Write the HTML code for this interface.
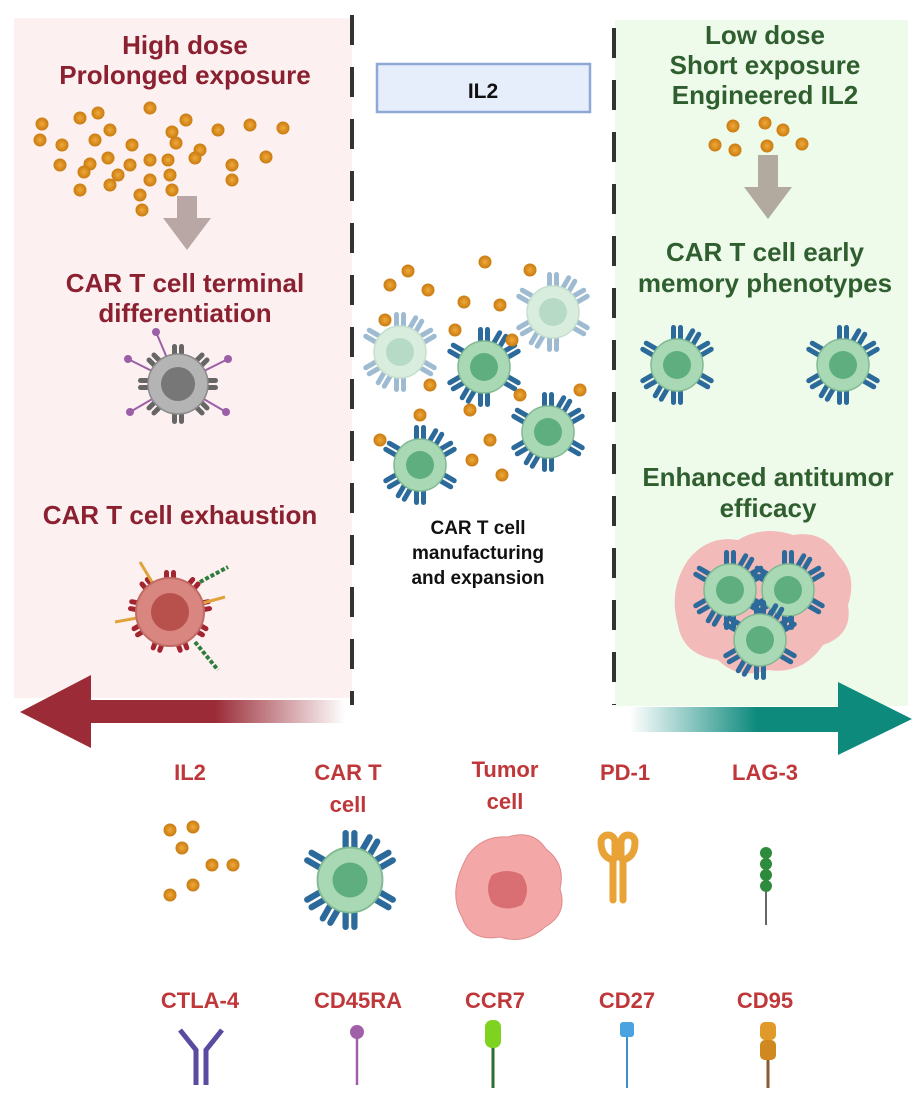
<!DOCTYPE html>
<html><head><meta charset="utf-8"><style>
body{margin:0;background:#fff}
svg{display:block}
text{font-family:"Liberation Sans Narrow","Liberation Sans",sans-serif;font-weight:bold;text-anchor:middle}
</style></head><body>
<svg width="918" height="1118" viewBox="0 0 918 1118" xmlns="http://www.w3.org/2000/svg">
<defs>
<linearGradient id="rg" x1="0" x2="1"><stop offset="0" stop-color="#9b2c37"/><stop offset="0.6" stop-color="#9b2c37"/><stop offset="1" stop-color="#9b2c37" stop-opacity="0"/></linearGradient>
<linearGradient id="tg" x1="0" x2="1"><stop offset="0" stop-color="#0e8a7d" stop-opacity="0"/><stop offset="0.45" stop-color="#0e8a7d"/><stop offset="1" stop-color="#0e8a7d"/></linearGradient>
<radialGradient id="dot"><stop offset="0" stop-color="#f0a93a"/><stop offset="1" stop-color="#c97b10"/></radialGradient>
<g id="rec"><rect x="-6" y="-40" width="5" height="16" rx="2.5" fill="#2b6a9a"/><rect x="1" y="-40" width="5" height="16" rx="2.5" fill="#2b6a9a"/></g>
<g id="car">
<use href="#rec"/><use href="#rec" transform="rotate(60)"/><use href="#rec" transform="rotate(120)"/><use href="#rec" transform="rotate(180)"/><use href="#rec" transform="rotate(240)"/><use href="#rec" transform="rotate(300)"/><use href="#rec" transform="rotate(30)"/><use href="#rec" transform="rotate(210)"/>
<circle r="26" fill="#a9d8b5" stroke="#7fb992" stroke-width="1.5"/><circle r="14" fill="#5fae80"/>
</g>
<g id="grec"><rect x="-6" y="-40" width="5" height="16" rx="2.5" fill="#666"/><rect x="1" y="-40" width="5" height="16" rx="2.5" fill="#666"/></g>
<g id="rrec"><rect x="-6" y="-42" width="5" height="17" rx="2.5" fill="#a32530"/><rect x="1" y="-42" width="5" height="17" rx="2.5" fill="#a32530"/></g>
<circle id="d" r="6.5" fill="url(#dot)"/>
</defs>

<rect x="14" y="18" width="338" height="680" fill="#fdf0f0"/>
<rect x="615" y="20" width="293" height="686" fill="#eefaea"/>
<line x1="352" y1="15" x2="352" y2="705" stroke="#333" stroke-width="4" stroke-dasharray="30,22"/>
<line x1="614" y1="28" x2="614" y2="705" stroke="#333" stroke-width="4" stroke-dasharray="30,22"/>

<rect x="377" y="64" width="213" height="48" fill="#e6eefb" stroke="#8fa9d6" stroke-width="2.5"/>
<text x="483" y="98" font-size="21" fill="#111">IL2</text>

<g fill="#8a2030" font-size="26">
<text x="185" y="54">High dose</text>
<text x="185" y="84">Prolonged exposure</text>
<text x="185" y="292">CAR T cell terminal</text>
<text x="185" y="322">differentiation</text>
<text x="180" y="524">CAR T cell exhaustion</text>
</g>
<g fill="#2f5e2f" font-size="26">
<text x="765" y="44">Low dose</text>
<text x="765" y="74">Short exposure</text>
<text x="765" y="104">Engineered IL2</text>
<text x="765" y="261">CAR T cell early</text>
<text x="765" y="292">memory phenotypes</text>
<text x="768" y="486">Enhanced antitumor</text>
<text x="768" y="517">efficacy</text>
</g>
<g fill="#111" font-size="19">
<text x="478" y="534">CAR T cell</text>
<text x="478" y="559">manufacturing</text>
<text x="478" y="584">and expansion</text>
</g>

<g>
<use href="#d" x="42" y="124"/><use href="#d" x="80" y="118"/><use href="#d" x="98" y="113"/><use href="#d" x="150" y="108"/><use href="#d" x="186" y="120"/><use href="#d" x="218" y="130"/><use href="#d" x="250" y="125"/><use href="#d" x="283" y="128"/>
<use href="#d" x="40" y="140"/><use href="#d" x="62" y="145"/><use href="#d" x="95" y="140"/><use href="#d" x="110" y="130"/><use href="#d" x="132" y="145"/><use href="#d" x="172" y="132"/><use href="#d" x="176" y="143"/><use href="#d" x="200" y="150"/><use href="#d" x="108" y="158"/><use href="#d" x="90" y="164"/>
<use href="#d" x="60" y="165"/><use href="#d" x="84" y="172"/><use href="#d" x="130" y="165"/><use href="#d" x="150" y="160"/><use href="#d" x="168" y="160"/><use href="#d" x="195" y="158"/><use href="#d" x="232" y="165"/><use href="#d" x="266" y="157"/><use href="#d" x="232" y="180"/>
<use href="#d" x="80" y="190"/><use href="#d" x="110" y="185"/><use href="#d" x="118" y="175"/><use href="#d" x="150" y="180"/><use href="#d" x="170" y="175"/><use href="#d" x="172" y="190"/><use href="#d" x="140" y="195"/><use href="#d" x="142" y="210"/>
</g>
<use href="#d" x="733" y="126"/><use href="#d" x="765" y="123"/><use href="#d" x="783" y="130"/><use href="#d" x="715" y="145"/><use href="#d" x="735" y="150"/><use href="#d" x="767" y="146"/><use href="#d" x="802" y="144"/>

<path d="M177 196h20v22h14l-24 32-24-32h14z" fill="#b9a7a5"/>
<path d="M758 155h20v32h14l-24 32-24-32h14z" fill="#b3aa9f"/>

<g transform="translate(178,384)">
<use href="#grec"/><use href="#grec" transform="rotate(45)"/><use href="#grec" transform="rotate(90)"/><use href="#grec" transform="rotate(135)"/><use href="#grec" transform="rotate(180)"/><use href="#grec" transform="rotate(225)"/><use href="#grec" transform="rotate(270)"/><use href="#grec" transform="rotate(315)"/>
<g stroke="#9b5fa8" stroke-width="2"><line x1="0" y1="0" x2="-50" y2="-25"/><line x1="0" y1="0" x2="50" y2="-25"/><line x1="0" y1="0" x2="-48" y2="28"/><line x1="0" y1="0" x2="48" y2="28"/><line x1="0" y1="0" x2="-22" y2="-52"/></g>
<g fill="#9b5fa8"><circle cx="-50" cy="-25" r="4"/><circle cx="50" cy="-25" r="4"/><circle cx="-48" cy="28" r="4"/><circle cx="48" cy="28" r="4"/><circle cx="-22" cy="-52" r="4"/></g>
<circle r="30" fill="#b4b4b4" stroke="#8a8a8a" stroke-width="1.5"/><circle r="17" fill="#777"/>
</g>
<g transform="translate(170,612)">
<use href="#rrec"/><use href="#rrec" transform="rotate(40)"/><use href="#rrec" transform="rotate(80)"/><use href="#rrec" transform="rotate(120)"/><use href="#rrec" transform="rotate(160)"/><use href="#rrec" transform="rotate(200)"/><use href="#rrec" transform="rotate(240)"/><use href="#rrec" transform="rotate(280)"/><use href="#rrec" transform="rotate(320)"/>
<g stroke="#e0a23a" stroke-width="3"><line x1="0" y1="0" x2="-30" y2="-50"/><line x1="0" y1="0" x2="55" y2="-15"/><line x1="0" y1="0" x2="-55" y2="10"/></g>
<g stroke="#2e7d3c" stroke-width="4" stroke-dasharray="4,2"><line x1="30" y1="-30" x2="58" y2="-45"/><line x1="25" y1="30" x2="48" y2="58"/></g>
<circle r="34" fill="#d98580" stroke="#c06a66" stroke-width="2"/><circle r="19" fill="#b8504c"/>
</g>

<g opacity="0.45"><use href="#car" x="400" y="352"/><use href="#car" x="553" y="312"/></g>
<use href="#car" x="484" y="367"/><use href="#car" x="548" y="432"/><use href="#car" x="420" y="465"/>
<use href="#d" x="408" y="271"/><use href="#d" x="390" y="285"/><use href="#d" x="428" y="290"/><use href="#d" x="485" y="262"/><use href="#d" x="530" y="270"/><use href="#d" x="464" y="302"/><use href="#d" x="500" y="305"/><use href="#d" x="455" y="330"/><use href="#d" x="385" y="320"/><use href="#d" x="430" y="385"/><use href="#d" x="512" y="340"/><use href="#d" x="520" y="395"/><use href="#d" x="470" y="410"/><use href="#d" x="420" y="415"/><use href="#d" x="490" y="440"/><use href="#d" x="380" y="440"/><use href="#d" x="502" y="475"/><use href="#d" x="472" y="460"/><use href="#d" x="580" y="390"/>

<use href="#car" x="677" y="365"/><use href="#car" x="843" y="365"/>
<g transform="translate(768,605)">
<path d="M-80,-45 q20,-25 50,-20 q25,-15 55,-5 q30,-5 45,20 q20,20 10,50 q5,30 -25,40 q-20,30 -55,25 q-30,10 -50,-10 q-35,-5 -40,-35 q-10,-35 10,-65z" fill="#f2b3b3" opacity="0.9"/>
</g>
<use href="#car" x="730" y="590"/><use href="#car" x="788" y="590"/><use href="#car" x="760" y="640"/>

<path d="M20,712 L91,675 L91,700 L345,700 L345,723 L91,723 L91,748 Z" fill="url(#rg)"/>
<path d="M630,707 L838,707 L838,682 L912,719 L838,755 L838,732 L630,732 Z" fill="url(#tg)"/>

<g fill="#c0373a" font-size="22">
<text x="190" y="780">IL2</text>
<text x="348" y="780">CAR T</text><text x="348" y="812">cell</text>
<text x="505" y="777">Tumor</text><text x="505" y="809">cell</text>
<text x="625" y="780">PD-1</text>
<text x="765" y="780">LAG-3</text>
<text x="200" y="1008">CTLA-4</text>
<text x="358" y="1008">CD45RA</text>
<text x="495" y="1008">CCR7</text>
<text x="627" y="1008">CD27</text>
<text x="765" y="1008">CD95</text>
</g>
<use href="#d" x="170" y="830"/><use href="#d" x="193" y="827"/><use href="#d" x="182" y="848"/><use href="#d" x="212" y="865"/><use href="#d" x="233" y="865"/><use href="#d" x="193" y="885"/><use href="#d" x="170" y="895"/>
<g transform="translate(350,880) scale(1.25)"><use href="#car"/></g>
<path d="M468,855 q15,-20 40,-18 q25,-8 38,12 q20,15 14,40 q8,25 -15,38 q-20,18 -45,10 q-30,5 -38,-20 q-15,-25 6,-62z" fill="#f3a7a7" stroke="#e08a8a"/>
<path d="M492,875 q15,-8 30,0 q10,15 0,30 q-18,8 -30,-2 q-8,-15 0,-28z" fill="#d96f73"/>
<path d="M613,900 V860 q-12,-3 -12,-18 a7,7 0 0 1 14,0 V858 M623,900 V860 q12,-3 12,-18 a7,7 0 0 0 -14,0 V858" fill="none" stroke="#e8a236" stroke-width="7" stroke-linecap="round"/>
<line x1="766" y1="850" x2="766" y2="925" stroke="#333" stroke-width="1.5"/>
<g fill="#2e8b3e"><circle cx="766" cy="853" r="6"/><circle cx="766" cy="864" r="6"/><circle cx="766" cy="875" r="6"/><circle cx="766" cy="886" r="6"/></g>
<g stroke="#5a4aa0" stroke-width="5" fill="none"><path d="M180,1030 L196,1050 V1085 M222,1030 L206,1050 V1085"/></g>
<line x1="357" y1="1035" x2="357" y2="1085" stroke="#a05fa8" stroke-width="2.5"/><circle cx="357" cy="1032" r="7" fill="#a05fa8"/>
<line x1="493" y1="1045" x2="493" y2="1088" stroke="#2e6e2e" stroke-width="3"/><rect x="485" y="1020" width="16" height="28" rx="7" fill="#7ed321"/>
<line x1="627" y1="1035" x2="627" y2="1088" stroke="#3a8fd0" stroke-width="2"/><rect x="620" y="1022" width="14" height="15" rx="3" fill="#4aa3e0"/>
<line x1="768" y1="1060" x2="768" y2="1088" stroke="#8a5a30" stroke-width="3"/><rect x="760" y="1022" width="16" height="18" rx="5" fill="#e09a2a"/><rect x="760" y="1040" width="16" height="20" rx="5" fill="#d08820"/>
</svg>
</body></html>
